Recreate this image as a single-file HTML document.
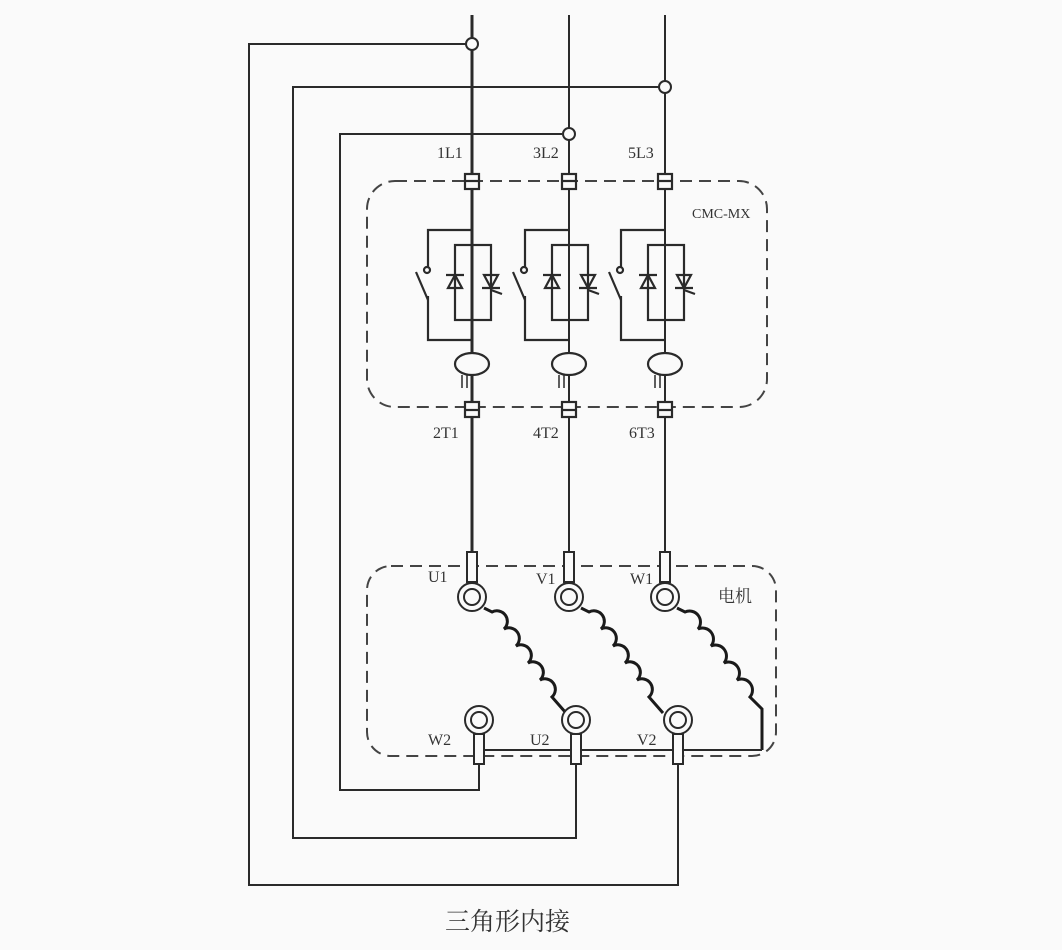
<!DOCTYPE html>
<html><head><meta charset="utf-8"><style>
html,body{margin:0;padding:0;background:#fafafa;}
svg{display:block;}
text{font-family:"Liberation Serif","Noto Serif CJK SC",serif;fill:#333;}
</style></head><body>
<svg width="1062" height="950" viewBox="0 0 1062 950" xmlns="http://www.w3.org/2000/svg">
<rect width="1062" height="950" fill="#fafafa"/>
<g stroke="#2a2a2a" fill="none" stroke-width="2">
<line x1="472" y1="15" x2="472" y2="555" stroke-width="3"/>
<line x1="569" y1="15" x2="569" y2="555"/>
<line x1="665" y1="15" x2="665" y2="555"/>
<polyline points="466,44 249,44 249,885 678,885 678,760"/>
<polyline points="659,87 293,87 293,838 576,838 576,760"/>
<polyline points="562,134 340,134 340,790 479,790 479,760"/>
<rect x="367" y="181" width="400" height="226" rx="28" stroke-dasharray="12,7" stroke="#444"/>
<rect x="367" y="566" width="409" height="190" rx="24" stroke-dasharray="12,7" stroke="#444"/>
</g>
<g stroke="#2a2a2a" fill="#fafafa" stroke-width="2">
<circle cx="472" cy="44" r="6"/><circle cx="665" cy="87" r="6"/><circle cx="569" cy="134" r="6"/>
</g>
<g id="ph" stroke="#2a2a2a" stroke-width="2.2" fill="none">
<rect x="465" y="174" width="14" height="15" fill="#fafafa"/>
<line x1="466" y1="181" x2="478" y2="181"/>
<polyline points="472,230 428,230 428,268"/>
<line x1="428" y1="300" x2="416" y2="272"/>
<circle cx="427" cy="270" r="3"/>
<polyline points="428,296 428,340 472,340"/>
<rect x="455" y="245" width="36" height="75"/>
<polygon points="455,275 448,288 462,288"/><line x1="446" y1="275" x2="464" y2="275"/>
<polygon points="484,275 498,275 491,288"/><line x1="482" y1="288" x2="500" y2="288"/><line x1="491" y1="290" x2="502" y2="294"/>
<ellipse cx="472" cy="364" rx="17" ry="11" fill="#fafafa"/>
<line x1="462" y1="375" x2="462" y2="388" stroke-width="1.5"/><line x1="467" y1="375" x2="467" y2="388" stroke-width="1.5"/>
<rect x="465" y="402" width="14" height="15" fill="#fafafa"/>
<line x1="466" y1="410" x2="478" y2="410"/>
</g>
<use href="#ph" x="97"/>
<use href="#ph" x="193"/>
<g stroke="#2a2a2a" stroke-width="2" fill="#fafafa">
<rect x="467" y="552" width="10" height="30"/><circle cx="472" cy="597" r="14"/><circle cx="472" cy="597" r="8"/>
<rect x="564" y="552" width="10" height="30"/><circle cx="569" cy="597" r="14"/><circle cx="569" cy="597" r="8"/>
<rect x="660" y="552" width="10" height="30"/><circle cx="665" cy="597" r="14"/><circle cx="665" cy="597" r="8"/>
</g>
<g stroke="#1a1a1a" stroke-width="3" fill="none">
<path d="M484,608 l8,4 a10.5 10.5 0 0 1 12 17 a10.5 10.5 0 0 1 12 17 a10.5 10.5 0 0 1 12 17 a10.5 10.5 0 0 1 12 17 a10.5 10.5 0 0 1 12 17 l14,16"/>
<path d="M581,608 l8,4 a10.5 10.5 0 0 1 12 17 a10.5 10.5 0 0 1 12 17 a10.5 10.5 0 0 1 12 17 a10.5 10.5 0 0 1 12 17 a10.5 10.5 0 0 1 12 17 l14,16"/>
<path d="M677,608 l8,4 a11 11 0 0 1 13 17 a11 11 0 0 1 13 17 a11 11 0 0 1 13 17 a11 11 0 0 1 13 17 a11 11 0 0 1 13 17 l12,12 l0,41"/>
</g>
<line x1="479" y1="750" x2="762" y2="750" stroke="#2a2a2a" stroke-width="2"/>
<g stroke="#2a2a2a" stroke-width="2" fill="#fafafa">
<rect x="474" y="734" width="10" height="30"/><circle cx="479" cy="720" r="14"/><circle cx="479" cy="720" r="8"/>
<rect x="571" y="734" width="10" height="30"/><circle cx="576" cy="720" r="14"/><circle cx="576" cy="720" r="8"/>
<rect x="673" y="734" width="10" height="30"/><circle cx="678" cy="720" r="14"/><circle cx="678" cy="720" r="8"/>
</g>
<g font-size="16">
<text x="437" y="158">1L1</text><text x="533" y="158">3L2</text><text x="628" y="158">5L3</text>
<text x="692" y="218" font-size="14">CMC-MX</text>
<text x="433" y="438">2T1</text><text x="533" y="438">4T2</text><text x="629" y="438">6T3</text>
<text x="428" y="582">U1</text><text x="536" y="584">V1</text><text x="630" y="584">W1</text>
<text x="718" y="602" font-size="17">电机</text>
<text x="428" y="745">W2</text><text x="530" y="745">U2</text><text x="637" y="745">V2</text>
</g>
<text x="445" y="930" font-size="25">三角形内接</text>
</svg>
</body></html>
